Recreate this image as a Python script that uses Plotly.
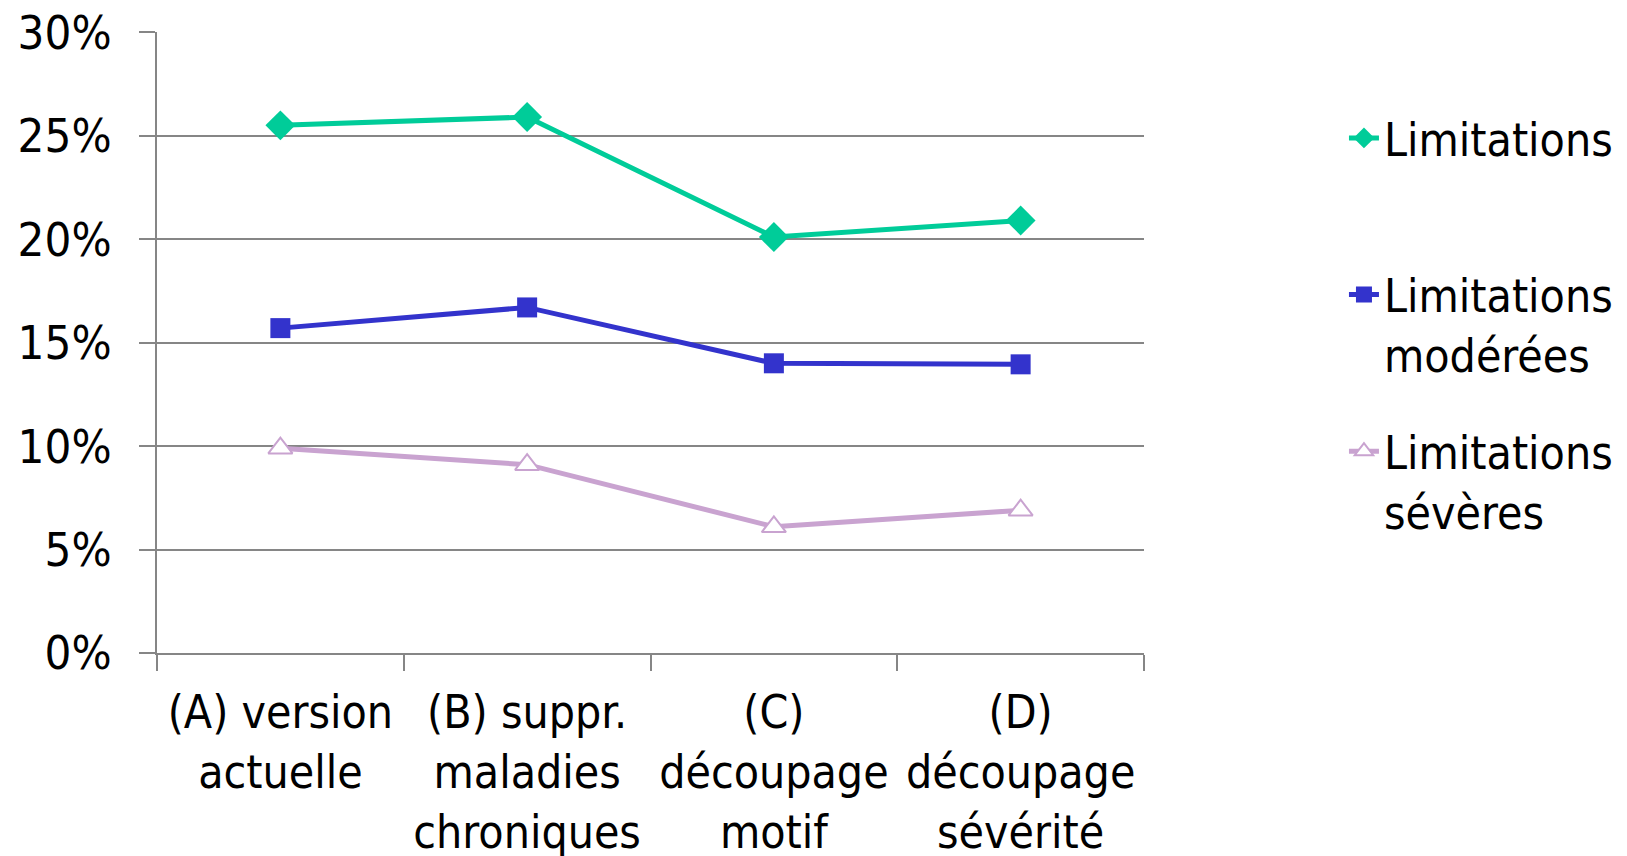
import plotly.graph_objects as go

categories = ["(A) version<br>actuelle", "(B) suppr.<br>maladies<br>chroniques",
              "(C)<br>découpage<br>motif", "(D)<br>découpage<br>sévérité"]
limitations = [0.255, 0.259, 0.201, 0.209]
moderees = [0.157, 0.167, 0.140, 0.1395]
severes = [0.099, 0.091, 0.061, 0.069]
y_ticks = [0, 0.05, 0.10, 0.15, 0.20, 0.25, 0.30]
y_labels = ["0%", "5%", "10%", "15%", "20%", "25%", "30%"]
series_names = ["Limitations<br>\u00a0", "Limitations<br>modérées", "Limitations<br>sévères"]

FONT = "DejaVu Sans Condensed, DejaVu Sans"
fig = go.Figure()
fig.add_trace(go.Scatter(x=categories, y=limitations, name=series_names[0],
                         mode="lines+markers", legendgroup="a",
                         line=dict(color="#00CC99", width=5),
                         marker=dict(symbol="diamond", size=23, color="#00CC99")))
fig.add_trace(go.Scatter(x=categories, y=moderees, name=series_names[1],
                         mode="lines+markers", legendgroup="b",
                         line=dict(color="#3333CC", width=5),
                         marker=dict(symbol="square", size=20, color="#3333CC")))
fig.add_trace(go.Scatter(x=categories, y=severes, name=series_names[2],
                         mode="lines+markers", legendgroup="c",
                         line=dict(color="#C9A3D0", width=5),
                         marker=dict(symbol="triangle-up", size=21, color="white",
                                     line=dict(color="#C9A3D0", width=2))))

fig.update_layout(
    width=1627, height=856,
    margin=dict(l=149, r=491, t=24, b=211),
    paper_bgcolor="white", plot_bgcolor="white",
    font=dict(family=FONT, size=46, color="black"),
    legend=dict(x=1.2026, y=0.888, xanchor="left", yanchor="top",
                tracegroupgap=34, valign="top", font=dict(size=46)),
)
fig.update_xaxes(type="category", tickson="boundaries", ticks="outside", ticklen=16,
                 tickcolor="#868686", tickwidth=2, showline=True, linecolor="#868686",
                 linewidth=2, showgrid=False, tickangle=0, range=[-0.5, 3.5],
                 ticklabelstandoff=18, automargin=False, ticklabeloverflow="allow")
fig.update_yaxes(range=[0, 0.3001], tickvals=y_ticks, ticktext=y_labels, ticks="outside",
                 ticklen=16, tickcolor="#868686", tickwidth=2, showline=True,
                 linecolor="#868686", linewidth=2, showgrid=True, gridcolor="#868686",
                 gridwidth=2, zeroline=False, ticklabelstandoff=18, automargin=False,
                 tickfont=dict(size=47), ticklabeloverflow="allow")
fig.write_html("out.html")
